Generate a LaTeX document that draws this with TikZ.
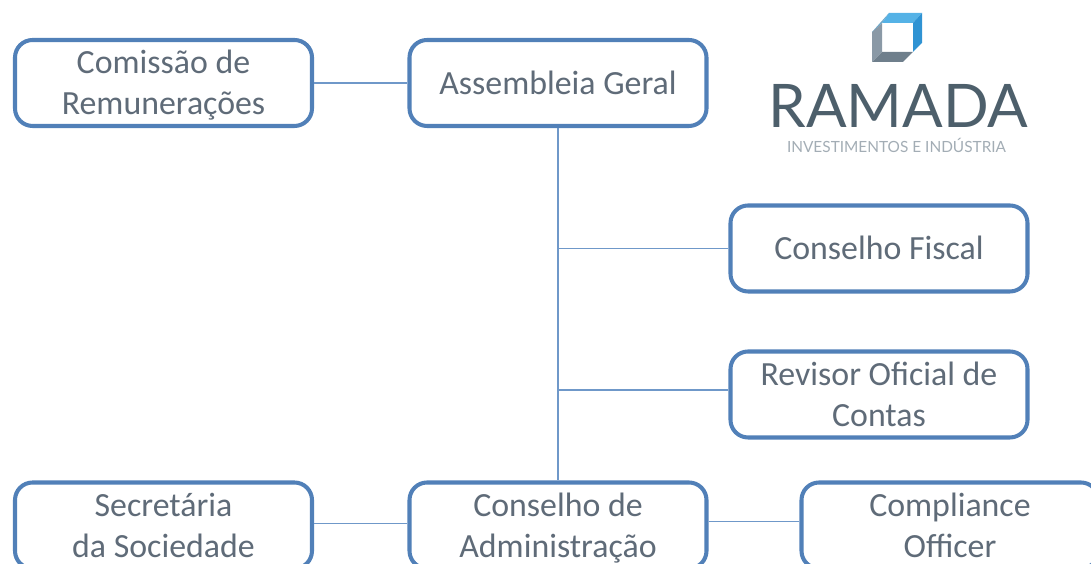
\documentclass[tikz,border=0pt]{standalone}
\usepackage{fontspec}
\setmainfont{Carlito}
\newfontfamily\logofont{Lato}
\newcommand{\orgstrut}{\rule[-0.05cm]{0pt}{0.33cm}}

\begin{document}
\begin{tikzpicture}[orgbox/.style={draw=boxblue,line width=1.15pt,rounded corners=5pt,fill=white,minimum width=2.97cm,minimum height=0.86cm,inner sep=0pt,align=center,text=textgrey,font=\fontsize{9.63}{11.66}\selectfont},
  orgline/.style={draw=lineblue,line width=0.55pt}]
\definecolor{boxblue}{HTML}{5180B8}
\definecolor{lineblue}{HTML}{6F98C9}
\definecolor{textgrey}{HTML}{5F6B78}
\definecolor{logodark}{HTML}{4D5F6B}
\definecolor{logolight}{HTML}{A3ADB5}
\definecolor{cubeblue}{HTML}{2F93D3}
\definecolor{cubesky}{HTML}{55B2E6}
\definecolor{cubegrey}{HTML}{8A99A6}
\definecolor{cubedark}{HTML}{6F7F8C}
\useasboundingbox (0,0) rectangle (10.91,5.64);
\clip (0,0) rectangle (10.91,5.64);
% top row
\node [orgbox] (comissao) at (1.635,4.81) {\orgstrut Comissão de\\\orgstrut Remunerações};
\node [orgbox] (assembleia) at (5.58,4.81) {\orgstrut Assembleia Geral};
% right column
\node [orgbox] (fiscal) at (8.79,3.155) {\orgstrut Conselho Fiscal};
\node [orgbox] (revisor) at (8.79,1.695) {\orgstrut Revisor Oficial de\\\orgstrut Contas};
% bottom row
\node [orgbox] (secretaria) at (1.635,0.385) {\orgstrut Secretária\\\orgstrut da Sociedade};
\node [orgbox] (administracao) at (5.58,0.385) {\orgstrut Conselho de\\\orgstrut Administração};
\node [orgbox] (compliance) at (9.50,0.385) {\orgstrut Compliance\\\orgstrut Officer};
% connectors
\coordinate (jfiscal) at (5.58,3.155);
\coordinate (jrevisor) at (5.58,1.74);
\draw [orgline] (comissao) -- (assembleia);
\draw [orgline] (assembleia) -- (administracao);
\draw [orgline] (jfiscal) -- (fiscal);
\draw [orgline] (jrevisor) -- (revisor.west |- jrevisor);
\draw [orgline] ([yshift=0.02cm]secretaria.east) -- ([yshift=0.02cm]administracao.west);
\draw [orgline] ([yshift=0.04cm]administracao.east) -- ([yshift=0.04cm]compliance.west);
% logo
\fill [cubesky] (8.89,5.51) -- (9.22,5.51) -- (9.13,5.41) -- (8.82,5.41) -- cycle;
\fill [cubeblue] (9.22,5.51) -- (9.22,5.21) -- (9.13,5.12) -- (9.13,5.41) -- cycle;
\fill [cubedark] (8.72,5.02) -- (8.82,5.12) -- (9.13,5.12) -- (9.03,5.02) -- cycle;
\fill [cubegrey] (8.72,5.32) -- (8.82,5.41) -- (8.82,5.12) -- (8.72,5.02) -- cycle;
\fill [cubesky!55!cubegrey] (8.89,5.51) -- (8.82,5.41) -- (8.72,5.32) -- cycle;
\node [text=logodark,inner sep=0pt,font=\logofont\fontsize{17.1}{18}\selectfont] (ramada) at (8.985,4.58) {RAMADA};
\node [text=logolight,inner sep=0pt,font=\logofont\fontsize{4.38}{5}\selectfont] (investimentos) at (8.965,4.19) {INVESTIMENTOS E INDÚSTRIA};
\end{tikzpicture}
\end{document}
